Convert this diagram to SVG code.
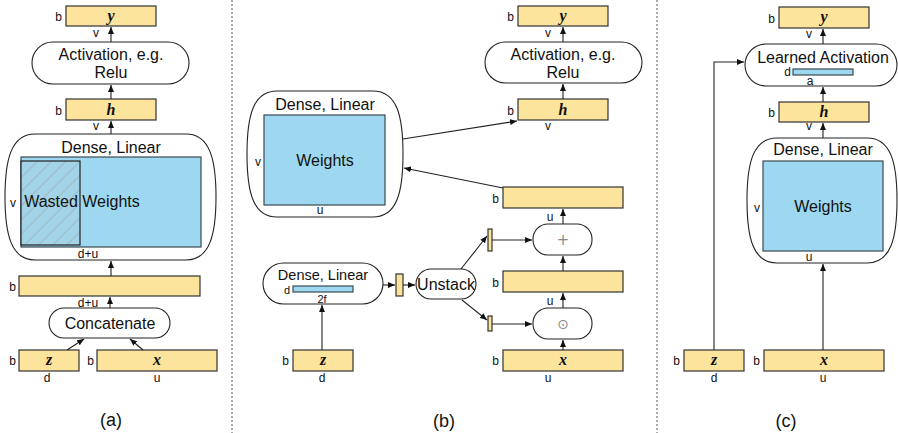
<svg xmlns="http://www.w3.org/2000/svg" width="898" height="433" viewBox="0 0 898 433">
<defs>
<marker id="arr" markerWidth="7" markerHeight="6" refX="7" refY="3" orient="auto" markerUnits="userSpaceOnUse"><path d="M0,0 L7,3 L0,6 z" fill="#111"/></marker>
<pattern id="hatch" width="10" height="10" patternUnits="userSpaceOnUse" patternTransform="rotate(45)"><rect width="10" height="10" fill="#a3d3e6"/><line x1="0" y1="0" x2="0" y2="10" stroke="#9aa8ae" stroke-width="1.2"/></pattern>
<style>
.t{font-family:"Liberation Sans",Arial,sans-serif;fill:#111;}
.big{font-size:16px;text-anchor:middle;}
.sm{font-size:12px;}
.mid{text-anchor:middle;}
.end{text-anchor:end;}
.m{font-family:"Liberation Serif","DejaVu Serif",serif;font-style:italic;font-weight:bold;font-size:16px;text-anchor:middle;fill:#111;}
.box{fill:#fde49c;stroke:#333;stroke-width:1.2;}
.w{fill:#9dd8f0;stroke:#3a4a50;stroke-width:1.2;}
.pill{fill:#fff;stroke:#222;stroke-width:1.1;}
.c{stroke:#222;stroke-width:1.1;fill:none;marker-end:url(#arr);}
.div{stroke:#555;stroke-width:1;stroke-dasharray:2,2;fill:none;}
.lab{font-family:"Liberation Sans",Arial,sans-serif;font-size:18px;text-anchor:middle;fill:#111;}
</style>
</defs>
<rect width="898" height="433" fill="#fff"/>
<line class="div" x1="232" y1="0" x2="232" y2="433"/>
<line class="div" x1="657" y1="0" x2="657" y2="433"/>

<!-- Panel a -->
<g id="a-y"><rect class="box" x="66" y="6" width="90" height="20"/><text class="m" x="111" y="21">y</text><text class="t sm end" x="62" y="21">b</text><text class="t sm mid" x="96" y="37">v</text></g>
<g id="a-act"><rect class="pill" x="32" y="42" width="157" height="42" rx="21"/><text class="t big" x="111" y="60">Activation, e.g.</text><text class="t big" x="111" y="78">Relu</text></g>
<g id="a-h"><rect class="box" x="66" y="99" width="90" height="21"/><text class="m" x="111" y="115">h</text><text class="t sm end" x="62" y="115">b</text><text class="t sm mid" x="96" y="130">v</text></g>
<g id="a-dense"><path class="pill" d="M35,134 H186 C210,134 216,160 216,197 C216,234 210,260 186,260 H35 C11,260 5,234 5,197 C5,160 11,134 35,134 Z"/><text class="t big" x="111" y="153">Dense, Linear</text><rect class="w" x="21" y="157" width="180" height="90"/><rect x="21" y="161" width="59" height="84" fill="url(#hatch)" stroke="#222" stroke-width="1.2"/><text class="t big" x="51" y="207">Wasted</text><text class="t big" x="111" y="207">Weights</text><text class="t sm mid" x="13" y="207">v</text><text class="t sm mid" x="88" y="258">d+u</text></g>
<g id="a-concat-out"><rect class="box" x="19" y="276" width="181" height="20"/><text class="t sm end" x="16" y="291">b</text><text class="t sm mid" x="88" y="307">d+u</text></g>
<g id="a-concat"><rect class="pill" x="49" y="308" width="121" height="30" rx="15"/><text class="t big" x="110" y="329">Concatenate</text></g>
<g id="a-z"><rect class="box" x="19" y="350" width="60" height="21"/><text class="m" x="49" y="365">z</text><text class="t sm end" x="16" y="365">b</text><text class="t sm mid" x="47" y="382">d</text></g>
<g id="a-x"><rect class="box" x="97" y="350" width="120" height="21"/><text class="m" x="157" y="365">x</text><text class="t sm end" x="94" y="365">b</text><text class="t sm mid" x="157" y="382">u</text></g>
<text class="lab" x="111" y="426">(a)</text>

<!-- Panel b -->
<g id="b-dense"><path class="pill" d="M277,91 H373 C397,91 403,116 403,154 C403,192 397,217 373,217 H277 C253,217 247,192 247,154 C247,116 253,91 277,91 Z"/><text class="t big" x="325" y="110">Dense, Linear</text><rect class="w" x="264" y="115" width="121" height="90"/><text class="t big" x="325" y="166">Weights</text><text class="t sm mid" x="258" y="166">v</text><text class="t sm mid" x="320" y="214">u</text></g>
<g id="b-y"><rect class="box" x="518" y="6" width="90" height="20"/><text class="m" x="563" y="21">y</text><text class="t sm end" x="514" y="21">b</text><text class="t sm mid" x="548" y="37">v</text></g>
<g id="b-act"><rect class="pill" x="485" y="42" width="157" height="41" rx="20.5"/><text class="t big" x="563" y="60">Activation, e.g.</text><text class="t big" x="563" y="78">Relu</text></g>
<g id="b-h"><rect class="box" x="518" y="99" width="90" height="21"/><text class="m" x="563" y="115">h</text><text class="t sm end" x="514" y="115">b</text><text class="t sm mid" x="548" y="130">v</text></g>
<g id="b-sum"><rect class="box" x="503" y="187" width="120" height="21"/><text class="t sm end" x="499" y="203">b</text><text class="t sm mid" x="550" y="221">u</text></g>
<g id="b-plus"><rect class="pill" x="533" y="224" width="59" height="31" rx="15"/><text x="563" y="245" font-family="DejaVu Sans,sans-serif" font-size="15" text-anchor="middle" fill="#888">+</text></g>
<g id="b-prod"><rect class="box" x="503" y="271" width="120" height="21"/><text class="t sm end" x="499" y="287">b</text><text class="t sm mid" x="550" y="305">u</text></g>
<g id="b-odot"><rect class="pill" x="533" y="308" width="59" height="31" rx="15"/><text x="563" y="329" font-family="DejaVu Sans,sans-serif" font-size="14" text-anchor="middle" fill="#888">⊙</text></g>
<g id="b-x"><rect class="box" x="503" y="350" width="120" height="21"/><text class="m" x="563" y="365">x</text><text class="t sm end" x="499" y="365">b</text><text class="t sm mid" x="548" y="382">u</text></g>
<g id="b-s1"><rect class="box" x="488" y="229" width="4" height="22"/></g>
<g id="b-s2"><rect class="box" x="488" y="316" width="4" height="15"/></g>
<g id="b-unstack"><rect class="pill" x="416" y="269" width="60" height="30" rx="15"/><text class="t big" x="446" y="290">Unstack</text></g>
<g id="b-stack"><rect class="box" x="396" y="274" width="7" height="22"/></g>
<g id="b-dense2"><rect class="pill" x="263" y="263" width="120" height="41" rx="20.5"/><text class="t" x="323" y="280" font-size="14.5" text-anchor="middle">Dense, Linear</text><rect class="w" x="293" y="286" width="60" height="6"/><text class="t end" x="290" y="294" font-size="11">d</text><text class="t" x="322" y="303" font-size="11" text-anchor="middle">2f</text></g>
<g id="b-z"><rect class="box" x="293" y="350" width="60" height="21"/><text class="m" x="323" y="365">z</text><text class="t sm end" x="289" y="365">b</text><text class="t sm mid" x="322" y="382">d</text></g>
<text class="lab" x="444" y="427">(b)</text>

<!-- Panel c -->
<g id="c-y"><rect class="box" x="779" y="7" width="90" height="21"/><text class="m" x="824" y="22">y</text><text class="t sm end" x="775" y="23">b</text><text class="t sm mid" x="809" y="38">v</text></g>
<g id="c-act"><rect class="pill" x="745" y="44" width="152" height="42" rx="21"/><text class="t big" x="823" y="63">Learned Activation</text><rect class="w" x="793" y="69" width="60" height="6"/><text class="t sm end" x="791" y="76">d</text><text class="t sm mid" x="810" y="85">a</text></g>
<g id="c-h"><rect class="box" x="779" y="102" width="90" height="20"/><text class="m" x="824" y="117">h</text><text class="t sm end" x="775" y="117">b</text><text class="t sm mid" x="809" y="130">v</text></g>
<g id="c-dense"><path class="pill" d="M777,138 H867 C891,138 897,163 897,200 C897,238 891,263 867,263 H777 C753,263 747,238 747,200 C747,163 753,138 777,138 Z"/><text class="t big" x="823" y="155">Dense, Linear</text><rect class="w" x="763" y="161" width="120" height="90"/><text class="t big" x="823" y="212">Weights</text><text class="t sm mid" x="757" y="212">v</text><text class="t sm mid" x="809" y="261">u</text></g>
<g id="c-z"><rect class="box" x="684" y="350" width="60" height="21"/><text class="m" x="714" y="365">z</text><text class="t sm end" x="680" y="365">b</text><text class="t sm mid" x="714" y="382">d</text></g>
<g id="c-x"><rect class="box" x="764" y="350" width="120" height="21"/><text class="m" x="824" y="365">x</text><text class="t sm end" x="760" y="365">b</text><text class="t sm mid" x="823" y="382">u</text></g>
<text class="lab" x="786" y="427">(c)</text>

<g id="connectors">
<line class="c" x1="111" y1="42" x2="111" y2="27"/>
<line class="c" x1="111" y1="99" x2="111" y2="85"/>
<line class="c" x1="111" y1="134" x2="111" y2="121"/>
<line class="c" x1="111" y1="276" x2="111" y2="261"/>
<line class="c" x1="110" y1="308" x2="110" y2="297"/>
<line class="c" x1="67" y1="350" x2="84" y2="339"/>
<line class="c" x1="143" y1="350" x2="130" y2="339"/>

<line class="c" x1="563" y1="42" x2="563" y2="27"/>
<line class="c" x1="563" y1="99" x2="563" y2="84"/>
<line class="c" x1="403" y1="139" x2="517" y2="121"/>
<line class="c" x1="503" y1="188" x2="404" y2="168"/>
<line class="c" x1="563" y1="224" x2="563" y2="209"/>
<line class="c" x1="563" y1="271" x2="563" y2="256"/>
<line class="c" x1="563" y1="308" x2="563" y2="293"/>
<line class="c" x1="563" y1="350" x2="563" y2="340"/>
<line class="c" x1="492" y1="240" x2="532" y2="240"/>
<line class="c" x1="492" y1="324" x2="532" y2="324"/>
<line class="c" x1="461" y1="269" x2="487" y2="236"/>
<line class="c" x1="462" y1="300" x2="487" y2="320"/>
<line class="c" x1="383" y1="285" x2="395" y2="285"/>
<line class="c" x1="403" y1="285" x2="415" y2="285"/>
<line class="c" x1="322" y1="350" x2="322" y2="305"/>

<line class="c" x1="823" y1="44" x2="823" y2="29"/>
<line class="c" x1="823" y1="102" x2="823" y2="87"/>
<line class="c" x1="823" y1="138" x2="823" y2="123"/>
<line class="c" x1="823" y1="350" x2="823" y2="264"/>
<polyline class="c" points="714,350 714,62 744,62"/>
</g>
</svg>
